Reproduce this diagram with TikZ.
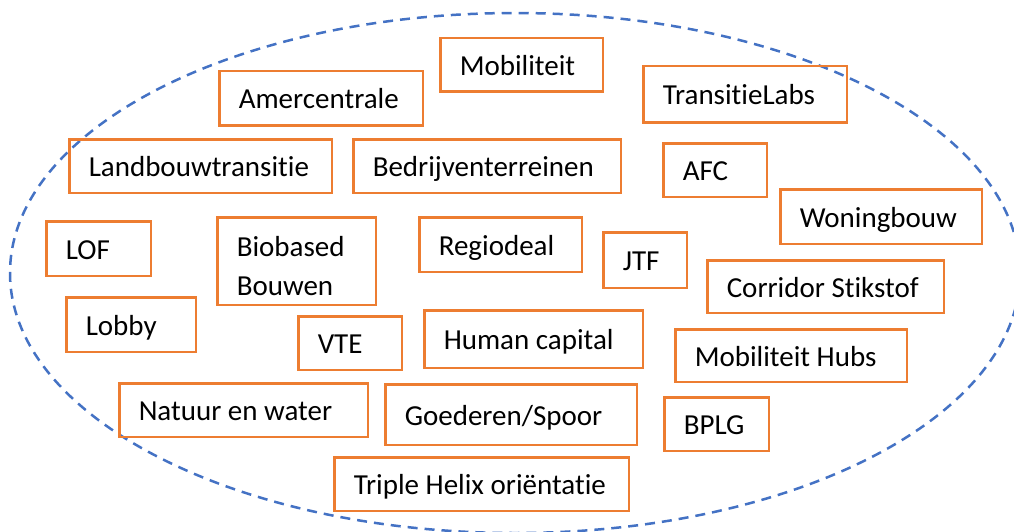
\documentclass[tikz,border=0pt]{standalone}
\usepackage{fontspec}
\setmainfont{Carlito}[Ligatures=NoCommon]
\usepackage{tikz}

\definecolor{tagorange}{HTML}{ED7D31}
\definecolor{ringblue}{HTML}{4472C4}
\newcommand{\tagfont}{\fontsize{29}{39}\selectfont\hyphenpenalty=10000 }

\begin{document}
\begin{tikzpicture}[x=1pt,y=-1pt]
    \tikzstyle{tag}=[draw=tagorange,line width=2.5pt,inner xsep=19.5pt,align=flush left,text height=21pt,text depth=0pt,font=\tagfont]
    \tikzstyle{ring}=[draw=ringblue,line width=2.5pt,dash pattern=on 10pt off 7pt]

    \useasboundingbox (0,0) rectangle (1014,532);

    \draw[ring] (515,273) ellipse [x radius=505, y radius=260];

    \node[tag,text width=123.5pt,minimum height=53.5pt] (mob)    at (521.5, 65.0) {Mobiliteit};
    \node[tag,text width=164.5pt,minimum height=54.5pt] (amer)   at (321.0, 98.5) {Amercentrale};
    \node[tag,text width=164.5pt,minimum height=56.5pt] (tlabs)  at (745.0, 94.5) {TransitieLabs};
    \node[tag,text width=223.5pt,minimum height=53.5pt] (land)   at (200.5,166.0) {Landbouwtransitie};
    \node[tag,text width=228.5pt,minimum height=53.5pt] (bedr)   at (487.0,166.0) {Bedrijventerreinen};
    \node[tag,text width=64.5pt, minimum height=53.5pt] (afc)    at (715.0,170.0) {AFC};
    \node[tag,text width=162.5pt,minimum height=54.5pt] (woning) at (881.0,216.5) {Woningbouw};
    \node[tag,text width=65.5pt, minimum height=54.5pt] (lof)    at ( 98.5,248.5) {LOF};
    \node[tag,text width=119.5pt,minimum height=87.5pt,text depth=31pt] (bio) at (296.5,261.0) {Biobased\\Bouwen};
    \node[tag,text width=123.5pt,minimum height=54.5pt] (regio)  at (500.5,244.5) {Regiodeal};
    \node[tag,text width=44.5pt, minimum height=55.5pt] (jtf)    at (645.0,260.0) {JTF};
    \node[tag,text width=197.5pt,minimum height=52.5pt] (corr)   at (825.5,286.5) {Corridor Stikstof};
    \node[tag,text width=90.5pt, minimum height=54.5pt] (lobby)  at (131.0,324.5) {Lobby};
    \node[tag,text width=64.5pt, minimum height=53.5pt] (vte)    at (350.0,343.0) {VTE};
    \node[tag,text width=179.5pt,minimum height=57.5pt] (human)  at (533.5,339.0) {Human capital};
    \node[tag,text width=192.5pt,minimum height=52.5pt] (hubs)   at (791.0,355.5) {Mobiliteit Hubs};
    \node[tag,text width=209.5pt,minimum height=53.5pt] (natuur) at (243.5,410.0) {Natuur en water};
    \node[tag,text width=212.5pt,minimum height=60.5pt] (goed)   at (511.0,414.5) {Goederen/Spoor};
    \node[tag,text width=65.5pt, minimum height=53.5pt] (bplg)   at (716.5,424.0) {BPLG};
    \node[tag,text width=255.5pt,minimum height=53.5pt] (triple) at (481.5,484.0) {Triple Helix oriëntatie};
\end{tikzpicture}
\end{document}
